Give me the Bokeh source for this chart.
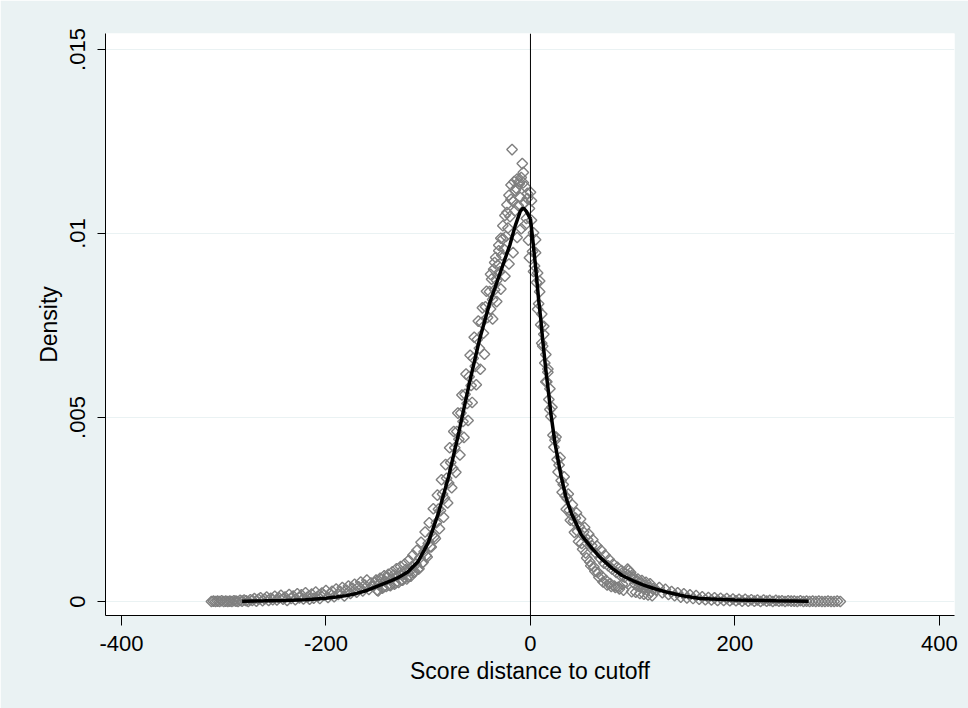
import math
from bokeh.plotting import figure
from bokeh.models import FixedTicker, Span, Range1d, ColumnDataSource
from bokeh.embed import file_html
from bokeh.resources import INLINE

# ---------------- data ----------------
# bin centres of the score-distance histogram (regular grids per segment)
bins_a = list(range(-312, -153, 2))
dens_a = [
    0.00000, 0.00001, 0.00000, 0.00001, 0.00000, 0.00002, 0.00000, 0.00001, 0.00000, 0.00001,
    0.00000, 0.00002, 0.00001, 0.00000, 0.00003, 0.00001, 0.00004, 0.00002, 0.00000, 0.00005,
    0.00003, 0.00008, 0.00001, 0.00006, 0.00010, 0.00002, 0.00007, 0.00012, 0.00003, 0.00009,
    0.00005, 0.00014, 0.00004, 0.00010, 0.00017, 0.00006, 0.00012, 0.00003, 0.00019, 0.00008,
    0.00015, 0.00005, 0.00021, 0.00010, 0.00018, 0.00007, 0.00024, 0.00012, 0.00006, 0.00020,
    0.00009, 0.00026, 0.00014, 0.00008, 0.00023, 0.00017, 0.00030, 0.00011, 0.00021, 0.00028,
    0.00013, 0.00034, 0.00019, 0.00027, 0.00038, 0.00015, 0.00031, 0.00042, 0.00022, 0.00036,
    0.00047, 0.00025, 0.00040, 0.00053, 0.00029, 0.00045, 0.00058, 0.00033, 0.00050, 0.00041,
]
bins_b = list(range(-152, -41, 2))
dens_b = [
    0.00052, 0.00031, 0.00047, 0.00060, 0.00038, 0.00055, 0.00066, 0.00044, 0.00061, 0.00072,
    0.00050, 0.00069, 0.00078, 0.00058, 0.00074, 0.00086, 0.00067, 0.00083, 0.00095, 0.00079,
    0.00101, 0.00088, 0.00119, 0.00104, 0.00135, 0.00125, 0.00158, 0.00149, 0.00181, 0.00176,
    0.00214, 0.00251, 0.00247, 0.00292, 0.00281, 0.00335, 0.00322, 0.00378, 0.00362, 0.00418,
    0.00462, 0.00441, 0.00512, 0.00489, 0.00563, 0.00538, 0.00611, 0.00587, 0.00661, 0.00639,
    0.00712, 0.00688, 0.00758, 0.00729, 0.00801, 0.00772,
]
bins_b2 = list(range(-151, -42, 2))
dens_b2 = [
    0.00058, 0.00029, 0.00063, 0.00036, 0.00070, 0.00041, 0.00074, 0.00043, 0.00081, 0.00047,
    0.00089, 0.00052, 0.00095, 0.00058, 0.00102, 0.00061, 0.00112, 0.00069, 0.00126, 0.00081,
    0.00139, 0.00089, 0.00161, 0.00107, 0.00189, 0.00121, 0.00214, 0.00148, 0.00252, 0.00171,
    0.00289, 0.00198, 0.00331, 0.00229, 0.00372, 0.00268, 0.00418, 0.00309, 0.00462, 0.00351,
    0.00512, 0.00398, 0.00561, 0.00446, 0.00618, 0.00492, 0.00669, 0.00541, 0.00718, 0.00589,
    0.00762, 0.00631, 0.00798, 0.00672, 0.00843,
]
bins_c = list(range(-40, 21, 1))
dens_c = [
    0.00842, 0.00795, 0.00876, 0.00821, 0.00903, 0.00847, 0.00935, 0.00872, 0.00914, 0.00968,
    0.00896, 0.00987, 0.00941, 0.01021, 0.00958, 0.01049, 0.00992, 0.01078, 0.01015, 0.01104,
    0.01046, 0.01132, 0.01228, 0.01087, 0.01141, 0.01062, 0.01123, 0.01148, 0.01076, 0.01135,
    0.01098, 0.01152, 0.01190, 0.01166, 0.01084, 0.01127, 0.01041, 0.01109, 0.00982, 0.01068,
    0.01112,
    0.01036, 0.00951, 0.01002, 0.00912, 0.00948, 0.00867, 0.00893, 0.00809, 0.00842, 0.00752,
    0.00781, 0.00694, 0.00726, 0.00648, 0.00671, 0.00597, 0.00623, 0.00549, 0.00578, 0.00503,
]
bins_c2 = list(range(-39, 20, 2))
dens_c2 = [
    0.00889, 0.00768, 0.00921, 0.00815, 0.00953, 0.00849, 0.00986, 0.00884, 0.01057, 0.00917,
    0.01093, 0.00948, 0.01117, 0.00989, 0.01141, 0.01013, 0.01138, 0.01024, 0.01095, 0.00934,
    0.01089, 0.00897, 0.00983, 0.00794, 0.00871, 0.00702, 0.00748, 0.00597, 0.00632, 0.00522,
]
bins_d = list(range(22, 121, 2))
dens_d = [
    0.00452, 0.00438, 0.00386, 0.00371, 0.00329, 0.00318, 0.00287, 0.00279, 0.00248, 0.00236,
    0.00219, 0.00227, 0.00191, 0.00203, 0.00158, 0.00189, 0.00132, 0.00168, 0.00108, 0.00152,
    0.00094, 0.00131, 0.00079, 0.00118, 0.00068, 0.00104, 0.00057, 0.00097, 0.00049, 0.00088,
    0.00042, 0.00079, 0.00039, 0.00071, 0.00047, 0.00066, 0.00052, 0.00084, 0.00079, 0.00061,
    0.00048, 0.00055, 0.00041, 0.00049, 0.00036, 0.00044, 0.00031, 0.00039, 0.00027, 0.00035,
]
bins_d2 = list(range(21, 120, 2))
dens_d2 = [
    0.00528, 0.00419, 0.00447, 0.00352, 0.00391, 0.00297, 0.00339, 0.00251, 0.00292, 0.00221,
    0.00263, 0.00188, 0.00241, 0.00163, 0.00224, 0.00142, 0.00201, 0.00118, 0.00183, 0.00097,
    0.00168, 0.00082, 0.00151, 0.00066, 0.00139, 0.00053, 0.00126, 0.00045, 0.00114, 0.00041,
    0.00102, 0.00038, 0.00093, 0.00034, 0.00084, 0.00031, 0.00076, 0.00088, 0.00069, 0.00027,
    0.00065, 0.00025, 0.00061, 0.00022, 0.00057, 0.00020, 0.00052, 0.00018, 0.00048, 0.00016,
]
bins_e = list(range(123, 304, 3))
dens_e = [
    0.00031, 0.00038, 0.00024, 0.00033, 0.00019, 0.00027, 0.00016, 0.00024, 0.00012, 0.00021,
    0.00010, 0.00018, 0.00008, 0.00016, 0.00006, 0.00013, 0.00005, 0.00011, 0.00004, 0.00010,
    0.00003, 0.00009, 0.00003, 0.00008, 0.00002, 0.00007, 0.00002, 0.00006, 0.00001, 0.00006,
    0.00001, 0.00005, 0.00001, 0.00004, 0.00000, 0.00004, 0.00001, 0.00003, 0.00000, 0.00003,
    0.00001, 0.00002, 0.00000, 0.00002, 0.00001, 0.00001, 0.00000, 0.00002, 0.00000, 0.00001,
    0.00000, 0.00001, 0.00000, 0.00001, 0.00000, 0.00000, 0.00001, 0.00000, 0.00000, 0.00001,
    0.00000,
]

# fitted local-linear densities, left and right of the cutoff
left_fit_x = [-282, -260, -240, -220, -200, -190, -180, -170, -160, -152,
              -144, -136, -130, -120, -110, -100, -90, -80, -70, -60,
              -50, -40, -30, -20, -15, -10, -7, -4, 0]
left_fit_y = [0.00001, 0.00002, 0.00003, 0.00005, 0.00009, 0.00012, 0.00016, 0.00022, 0.0003, 0.00039,
              0.00048, 0.00057, 0.00064, 0.0008, 0.00108, 0.0016, 0.0024, 0.0034, 0.0046, 0.0059,
              0.0071, 0.0081, 0.0089, 0.0097, 0.0102, 0.0106, 0.0107, 0.0106, 0.0104]
right_fit_x = [0, 2, 5, 8, 10, 12, 15, 18, 20, 22,
               24, 26, 28, 30, 35, 40, 45, 50, 54, 60,
               68, 80, 90, 100, 110, 120, 134, 150, 166, 200,
               240, 272]
right_fit_y = [0.0104, 0.0099, 0.0091, 0.0082, 0.0077, 0.0071, 0.0063, 0.0056, 0.0051, 0.0047,
               0.0043, 0.0040, 0.0037, 0.0034, 0.0028, 0.0024, 0.0021, 0.0018, 0.00166, 0.00145,
               0.0012, 0.0009, 0.0007, 0.00057, 0.00045, 0.00036, 0.00025, 0.00015, 0.00008, 0.00004,
               0.00002, 0.00001]

x_ticks = [-400, -200, 0, 200, 400]
x_tick_labels = ["-400", "-200", "0", "200", "400"]
y_ticks = [0, 0.005, 0.01, 0.015]
y_tick_labels = ["0", ".005", ".01", ".015"]
x_label = "Score distance to cutoff"
y_label = "Density"
cutoff = 0

# ---------------- figure ----------------
BG = "#EAF2F3"
FONT = "Liberation Sans"

p = figure(width=968, height=708, output_backend="svg", toolbar_location=None,
           x_range=Range1d(-415.6, 414.7), y_range=Range1d(-0.00038, 0.015435),
           min_border_left=105, min_border_right=14, min_border_top=33, min_border_bottom=93)
p.border_fill_color = BG
p.background_fill_color = "white"
p.outline_line_color = None

src = ColumnDataSource(dict(
    x=bins_a + bins_b + bins_b2 + bins_c + bins_c2 + bins_d + bins_d2 + bins_e,
    y=dens_a + dens_b + dens_b2 + dens_c + dens_c2 + dens_d + dens_d2 + dens_e,
))
p.scatter("x", "y", source=src, marker="square", angle=math.pi / 4, size=7.5,
          fill_color=None, line_color="#7f7f7f", line_width=1.4)

p.line(left_fit_x, left_fit_y, line_color="black", line_width=3.5)
p.line(right_fit_x, right_fit_y, line_color="black", line_width=3.5)

p.add_layout(Span(location=cutoff, dimension="height", line_color="black", line_width=1))

# axes
p.xaxis.ticker = FixedTicker(ticks=x_ticks)
p.xaxis.major_label_overrides = {t: l for t, l in zip(x_ticks, x_tick_labels)}
p.yaxis.ticker = FixedTicker(ticks=y_ticks)
p.yaxis.major_label_overrides = {t: l for t, l in zip(y_ticks, y_tick_labels)}
p.yaxis.major_label_orientation = "vertical"

for ax in (p.xaxis[0], p.yaxis[0]):
    ax.axis_line_color = "black"
    ax.major_tick_line_color = "black"
    ax.minor_tick_line_color = None
    ax.major_tick_in = 0
    ax.major_label_text_font = FONT
    ax.major_label_text_font_size = "22px"
    ax.major_label_text_color = "black"
    ax.axis_label_text_font = FONT
    ax.axis_label_text_font_size = "23px"
    ax.axis_label_text_font_style = "normal"
    ax.axis_label_text_color = "black"

p.xaxis.axis_label = x_label
p.yaxis.axis_label = y_label
p.xaxis.major_tick_out = 10
p.yaxis.major_tick_out = 8
p.xaxis.major_label_standoff = 10
p.yaxis.major_label_standoff = 12
p.xaxis.axis_label_standoff = 4
p.yaxis.axis_label_standoff = 6

p.xgrid.visible = False
p.ygrid.grid_line_color = BG
p.ygrid.grid_line_width = 1

open("out.html", "w").write(file_html(p, INLINE))
